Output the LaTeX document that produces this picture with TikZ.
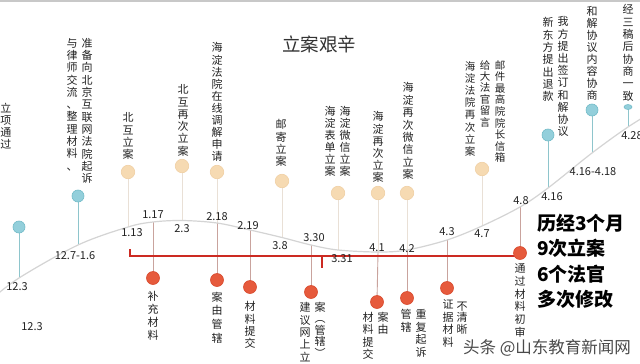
\documentclass[tikz,border=0pt]{standalone}
\usepackage{fontspec}
\usetikzlibrary{shapes.geometric}
\setmainfont{Noto Sans CJK SC}
\definecolor{tealc}{HTML}{93CFDB}
\definecolor{tealb}{HTML}{72BBC8}
\definecolor{beigec}{HTML}{F6DAB2}
\definecolor{beigeb}{HTML}{F0D0A4}
\definecolor{redc}{HTML}{E65A3C}
\definecolor{redb}{HTML}{D84A2E}
\definecolor{redline}{HTML}{CC2A22}
\definecolor{curvec}{HTML}{D4D4D4}
\definecolor{tealstem}{HTML}{8EC5CC}
\definecolor{beigestem}{HTML}{E9E0D6}
\definecolor{redstem}{HTML}{C9A39D}
\definecolor{txt}{HTML}{222222}
\definecolor{ttl}{HTML}{333333}
\definecolor{wmc}{HTML}{4A4A4A}
\definecolor{topc}{HTML}{C8C8C8}
% vertical stacking of characters
\newcommand\vstack[2][12.3pt]{\vbox{\baselineskip=#1\relax\lineskiplimit=-20pt\lineskip=0pt\vstackA#2\relax}}
\def\vstackA#1{\ifx\relax#1\expandafter\vstackEnd\else\expandafter\vstackC\fi #1}
\def\vstackC#1{\hbox to 1em{\hss#1\hss}\vstackA}
\def\vstackEnd#1{}
\begin{document}
\begin{tikzpicture}[x=1pt,y=-1pt,
  tdot/.style={circle,fill=tealc,draw=tealb,line width=0.6pt,minimum size=12pt,inner sep=0pt},
  bdot/.style={circle,fill=beigec,draw=beigeb,line width=0.6pt,minimum size=13.5pt,inner sep=0pt},
  rdot/.style={circle,fill=redc,draw=redb,line width=0.6pt,minimum size=13pt,inner sep=0pt},
  tstem/.style={draw=tealstem,line width=0.9pt},
  bstem/.style={draw=beigestem,line width=0.9pt},
  rstem/.style={draw=redstem,line width=0.9pt},
  num/.style={font=\fontsize{11}{12}\selectfont,text=txt,inner sep=0pt},
  vtxt/.style={font=\fontsize{11}{12}\selectfont,text=txt,inner sep=0pt,anchor=north},
  vsml/.style={font=\fontsize{10.5}{12}\selectfont,text=txt,inner sep=0pt,anchor=north}]
\useasboundingbox (0,0) rectangle (640,364);
\clip (0,0) rectangle (640,364);
\fill[white] (0,0) rectangle (640,364);
\coordinate (tl) at (0,0.8);
\coordinate (tr) at (640,0.8);
\draw[topc,line width=1.6pt] (tl) -- (tr);

% curve points
\coordinate (k0) at (-12,302);
\coordinate (k1) at (19,278);
\coordinate (k2) at (78,245);
\coordinate (k3) at (128,227);
\coordinate (k4) at (153,222);
\coordinate (k5) at (182,220.5);
\coordinate (k6) at (217,223);
\coordinate (k7) at (250,230);
\coordinate (k8) at (282,237.5);
\coordinate (k9) at (311,245);
\coordinate (k10) at (338,250);
\coordinate (k11) at (378,252);
\coordinate (k12) at (407,250);
\coordinate (k13) at (447,240);
\coordinate (k14) at (482,226);
\coordinate (k15) at (520,207);
\coordinate (k16) at (548,188);
\coordinate (k17) at (592,153);
\coordinate (k18) at (628,127);
\coordinate (k19) at (662,106);

% dot positions (nodes drawn later on top)
\coordinate (p123) at (19,227);
\coordinate (p127) at (78,196);
\coordinate (p113) at (128,172);
\coordinate (p23) at (182,166);
\coordinate (p218) at (217,172);
\coordinate (p38) at (282,181);
\coordinate (p331) at (338,193);
\coordinate (p41) at (378,193);
\coordinate (p42) at (407,193);
\coordinate (p47) at (482,169);
\coordinate (p416) at (548,135);
\coordinate (p4161) at (592,110);
\coordinate (p428) at (628,107);
\coordinate (q117) at (153,278);
\coordinate (q218) at (217,280);
\coordinate (q219) at (250,287);
\coordinate (q330) at (311,292);
\coordinate (q41) at (377,302);
\coordinate (q42) at (407,298);
\coordinate (q43) at (447,288);
\coordinate (q48) at (520,253);

% stems
\draw[tstem] (p123) -- (k1);
\draw[tstem] (p127) -- (k2);
\draw[bstem] (p113) -- (k3);
\draw[bstem] (p23) -- (k5);
\draw[bstem] (p218) -- (k6);
\draw[bstem] (p38) -- (k8);
\draw[bstem] (p331) -- (k10);
\draw[bstem] (p41) -- (k11);
\draw[bstem] (p42) -- (k12);
\draw[bstem] (p47) -- (k14);
\draw[tstem] (p416) -- (k16);
\draw[tstem] (p4161) -- (k17);
\draw[tstem] (p428) -- (k18);
\draw[rstem] (k4) -- (q117);
\draw[rstem] (k6) -- (q218);
\draw[rstem] (k7) -- (q219);
\draw[rstem] (k9) -- (q330);
\draw[rstem] (k11) -- (q41);
\draw[rstem] (k12) -- (q42);
\draw[rstem] (k13) -- (q43);
\draw[rstem] (k15) -- (q48);

% grey curve
\draw[curvec,line width=1.2pt] plot[smooth,tension=0.55] coordinates {(k0) (k1) (k2) (k3) (k4) (k5) (k6) (k7) (k8) (k9) (k10) (k11) (k12) (k13) (k14) (k15) (k16) (k17) (k18) (k19)};

% red line
\coordinate (ra) at (130,249);
\coordinate (rb) at (130,256);
\coordinate (rtk) at (322,256);
\coordinate (rtk2) at (322,268);
\draw[redline,line width=1.5pt] (ra) -- (rb) -- (rb -| q48);
\draw[redline,line width=1.5pt] (rtk) -- (rtk2);

% dots
\node[tdot] (d123) at (p123) {};
\node[tdot] (d127) at (p127) {};
\node[bdot] (d113) at (p113) {};
\node[bdot] (d23) at (p23) {};
\node[bdot] (d218) at (p218) {};
\node[bdot] (d38) at (p38) {};
\node[bdot] (d331) at (p331) {};
\node[bdot] (d41) at (p41) {};
\node[bdot] (d42) at (p42) {};
\node[bdot] (d47) at (p47) {};
\node[tdot] (d416) at (p416) {};
\node[tdot] (d4161) at (p4161) {};
\node[ellipse,fill=tealc,draw=tealb,line width=0.6pt,minimum width=8pt,minimum height=5pt,inner sep=0pt] (d428) at (p428) {};
\node[rdot] (r117) at (q117) {};
\node[rdot] (r218) at (q218) {};
\node[rdot] (r219) at (q219) {};
\node[rdot] (r330) at (q330) {};
\node[rdot] (r41) at (q41) {};
\node[rdot] (r42) at (q42) {};
\node[rdot] (r43) at (q43) {};
\node[rdot] (r48) at (q48) {};

% number labels
\node[num] (l1) at (17,287) {12.3};
\node[num] (l2) at (32,327) {12.3};
\node[num] (l3) at (75,256) {12.7-1.6};
\node[num] (l4) at (132,233) {1.13};
\node[num] (l5) at (153,215) {1.17};
\node[num] (l6) at (182,229) {2.3};
\node[num] (l7) at (217,216.5) {2.18};
\node[num] (l8) at (248,226) {2.19};
\node[num] (l9) at (280,246) {3.8};
\node[num] (l10) at (314,238) {3.30};
\node[num] (l11) at (342,259) {3.31};
\node[num] (l12) at (377,248) {4.1};
\node[num] (l13) at (407,249) {4.2};
\node[num] (l14) at (447,232) {4.3};
\node[num] (l15) at (482,234) {4.7};
\node[num] (l16) at (521,201) {4.8};
\node[num] (l17) at (552,197) {4.16};
\node[num] (l18) at (593,172) {4.16-4.18};
\node[num] (l19) at (632,136) {4.28};

% upper vertical texts
\node[vtxt] (u1) at (6,102.5) {\vstack{立项通过}};
\node[vtxt] (u2a) at (72,38) {\vstack{与律师交流、整理材料、}};
\node[vtxt] (u2b) at (87,38) {\vstack{准备向北京互联网法院起诉}};
\node[vtxt] (u3) at (128,112.5) {\vstack{北互立案}};
\node[vtxt] (u4) at (183,84.5) {\vstack{北互再次立案}};
\node[vtxt] (u5) at (217,42.5) {\vstack[12.1pt]{海淀法院在线调解申请}};
\node[vtxt] (u6) at (281,119.5) {\vstack{邮寄立案}};
\node[vtxt] (u7a) at (330,106.5) {\vstack[12pt]{海淀表单立案}};
\node[vtxt] (u7b) at (345,106.5) {\vstack[12pt]{海淀微信立案}};
\node[vtxt] (u8) at (378,111.5) {\vstack[12.2pt]{海淀再次立案}};
\node[vtxt] (u9) at (408,82.5) {\vstack[12.4pt]{海淀再次微信立案}};
\node[vsml] (u10a) at (470,61.5) {\vstack[12.1pt]{海淀法院再次立案}};
\node[vsml] (u10b) at (485,60) {\vstack[11.4pt]{给大法官留言}};
\node[vsml] (u10c) at (500,60) {\vstack[11.6pt]{邮件最高院院长信箱}};
\node[vtxt] (u11a) at (548,17.5) {\vstack[12.3pt]{新东方提出退款}};
\node[vtxt] (u11b) at (563,16.5) {\vstack[12.2pt]{我方提出签订和解协议}};
\node[vtxt] (u12) at (592,6.5) {\vstack[12pt]{和解协议内容协商}};
\node[vtxt] (u13) at (628,4.5) {\vstack[12.3pt]{经三稿后协商一致}};

% lower vertical texts
\node[vtxt] (b1) at (153,291.5) {\vstack[12.7pt]{补充材料}};
\node[vtxt] (b2) at (217,291.5) {\vstack[13.8pt]{案由管辖}};
\node[vtxt] (b3) at (250,301.5) {\vstack[12.2pt]{材料提交}};
\node[vtxt] (b4a) at (305,302.5) {\vstack[12.3pt]{建议网上立}};
\node[vtxt] (b4b) at (320,301.5) {\vstack[11.6pt]{案︵管辖︶}};
\node[vtxt] (b5a) at (368,312) {\vstack[12.5pt]{材料提交}};
\node[vtxt] (b5b) at (383,311.5) {\vstack[12.5pt]{案由}};
\node[vtxt] (b6a) at (406,309.5) {\vstack[12.5pt]{管辖}};
\node[vtxt] (b6b) at (421,309.5) {\vstack[12.5pt]{重复起诉}};
\node[vtxt] (b7a) at (448,299.5) {\vstack[12.6pt]{证据材料}};
\node[vtxt] (b7b) at (462,301.5) {\vstack[11.5pt]{不清晰}};
\node[vtxt] (b8) at (520,263.5) {\vstack[12.8pt]{通过材料初审}};

% title, summary, watermark
\node[font=\fontsize{18.5}{20}\selectfont,text=ttl,inner sep=0pt] (title) at (319,44) {立案艰辛};
\node[anchor=north west,align=left,font=\fontsize{19}{25.3}\selectfont\bfseries,text=black,inner sep=0pt] (sum) at (537,214) {历经3个月\\9次立案\\6个法官\\多次修改};
\node[font=\fontsize{16.5}{18}\selectfont,text=wmc,inner sep=0pt] (wm) at (547,348) {头条 @山东教育新闻网};
\end{tikzpicture}
\end{document}
